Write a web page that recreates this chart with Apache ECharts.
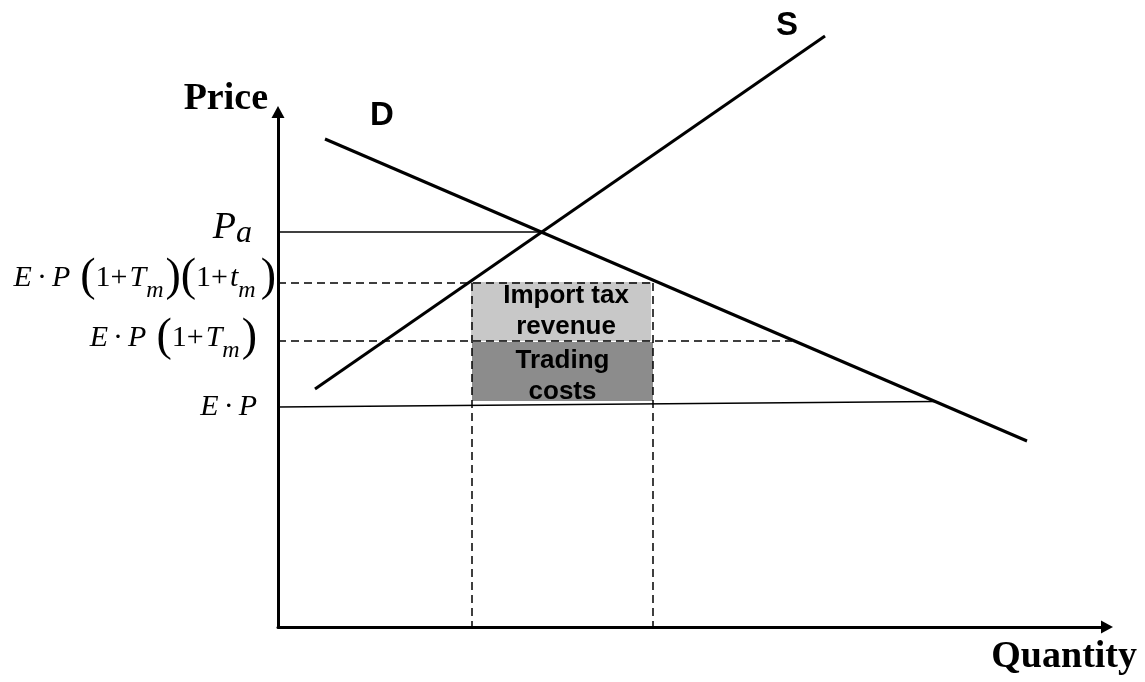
<!DOCTYPE html>
<html lang="en">
<head>
    <meta charset="UTF-8">
    <title>Import tax and trading costs</title>
    <script type="text/javascript" src="https://cdn.jsdelivr.net/npm/echarts@6/dist/echarts.min.js"></script>
    <style>
        html, body { margin: 0; padding: 0; background: #fff; }
        #chart { width: 1145px; height: 682px; }
    </style>
</head>
<body>
<div id="chart"></div>
<script>
    // chart units: 1 unit = 1 px, origin at the axes corner
    var demand = [[47, 488], [749, 186]];
    var supply = [[37, 238], [547, 591]];
    var autarkyPrice = [[0, 395], [264, 395]];
    var worldPrice = [[0, 220], [657, 225.5]];
    var priceWithTax = [[0, 344], [373, 344]];
    var priceWithCosts = [[0, 286], [514, 286]];
    var qLeft = [[194, 344], [194, 0]];
    var qRight = [[375, 344], [375, 0]];
    var taxBox = [[193, 286], [373, 345]];
    var costBox = [[194, 226], [375, 285]];

    // y positions of the price labels
    var priceTicks = [220, 289, 349, 399];
    var priceLabels = {
        220: '{e|E}{g5| }{n|·}{g5| }{e|P}{g19| }',
        289: '{e|E}{g5| }{n|·}{g5| }{e|P}{g10| }{p|(}{n|1+}{g2| }{e|T}{s|m}{g2| }{p|)}{g19| }',
        349: '{e|E}{g5| }{n|·}{g5| }{e|P}{g10| }{p|(}{n|1+}{g2| }{e|T}{s|m}{g2| }{p|)}{p|(}{n|1+}{g2| }{e|t}{s|m}{g5| }{p|)}',
        399: '{P|P}{a|a}{g24| }'
    };

    var chart = echarts.init(document.getElementById('chart'));

    var serif = 'Liberation Serif';
    var sans = 'Liberation Sans';

    function line(data, width, dashed) {
        return {
            type: 'line',
            data: data,
            symbol: 'none',
            silent: true,
            clip: false,
            animation: false,
            lineStyle: {
                color: '#000',
                width: width,
                type: dashed ? [8, 5] : 'solid'
            }
        };
    }

    var axisLine = {
        show: true,
        symbol: ['none', 'triangle'],
        symbolSize: [13, 12],
        lineStyle: { color: '#000', width: 3 }
    };

    var option = {
        animation: false,
        grid: { left: 278, top: 112, width: 829, height: 515 },
        xAxis: {
            type: 'value',
            min: 0,
            max: 829,
            axisLine: axisLine,
            axisTick: { show: false },
            axisLabel: { show: false },
            splitLine: { show: false }
        },
        yAxis: {
            type: 'value',
            min: 0,
            max: 515,
            axisLine: axisLine,
            axisTick: { show: false },
            splitLine: { show: false },
            axisLabel: {
                show: true,
                margin: 2,
                customValues: priceTicks,
                color: '#000',
                formatter: function (v) { return priceLabels[v] || ''; },
                rich: {
                    e: { fontFamily: serif, fontStyle: 'italic', fontSize: 30, color: '#000' },
                    n: { fontFamily: serif, fontSize: 30, color: '#000' },
                    p: { fontFamily: serif, fontSize: 46, lineHeight: 50, color: '#000' },
                    s: { fontFamily: serif, fontStyle: 'italic', fontSize: 24, lineHeight: 30, verticalAlign: 'bottom', color: '#000' },
                    P: { fontFamily: serif, fontStyle: 'italic', fontSize: 38, lineHeight: 44, color: '#000' },
                    a: { fontFamily: serif, fontStyle: 'italic', fontSize: 32, lineHeight: 25, verticalAlign: 'bottom', color: '#000' },
                    g2: { width: 2, fontSize: 10 },
                    g5: { width: 5, fontSize: 10 },
                    g10: { width: 10, fontSize: 10 },
                    g19: { width: 19, fontSize: 10 },
                    g24: { width: 24, fontSize: 10 }
                }
            }
        },
        graphic: [
            { type: 'text', right: 1145 - 268, top: 80, style: { text: 'Price', font: 'bold 38px "Liberation Serif"', fill: '#000' } },
            { type: 'text', right: 8, top: 638, style: { text: 'Quantity', font: 'bold 38px "Liberation Serif"', fill: '#000' } },
            { type: 'text', left: 776, top: 9, style: { text: 'S', font: 'bold 33px "Liberation Sans"', fill: '#000' } },
            { type: 'text', left: 370, top: 99, style: { text: 'D', font: 'bold 33px "Liberation Sans"', fill: '#000' } }
        ],
        series: [
            {
                type: 'line',
                data: [],
                silent: true,
                markArea: {
                    silent: true,
                    label: {
                        show: true,
                        position: 'inside',
                        color: '#000',
                        fontFamily: sans,
                        fontWeight: 'bold',
                        fontSize: 26,
                        lineHeight: 31
                    },
                    data: [
                        [
                            { coord: taxBox[0], itemStyle: { color: '#c8c8c8', opacity: 1 }, label: { formatter: 'Import tax\nrevenue', offset: [5, 0] } },
                            { coord: taxBox[1] }
                        ],
                        [
                            { coord: costBox[0], itemStyle: { color: '#8c8c8c', opacity: 1 }, label: { formatter: 'Trading\ncosts', offset: [0, 5] } },
                            { coord: costBox[1] }
                        ]
                    ]
                }
            },
            line(autarkyPrice, 1.5, false),
            line(worldPrice, 1.5, false),
            line(priceWithTax, 1.5, true),
            line(priceWithCosts, 1.5, true),
            line(qLeft, 1.5, true),
            line(qRight, 1.5, true),
            line(demand, 3, false),
            line(supply, 3, false)
        ]
    };
    chart.setOption(option);
</script>
</body>
</html>
